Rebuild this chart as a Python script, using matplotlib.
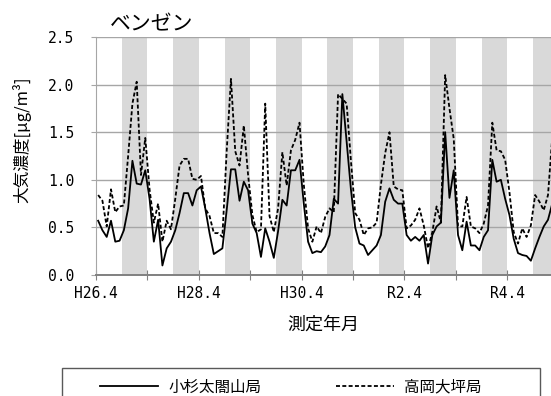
import numpy as np
import matplotlib.pyplot as plt
from matplotlib.lines import Line2D
from matplotlib.patches import Rectangle

plt.rcParams['font.family'] = ['Noto Sans CJK JP', 'DejaVu Sans']

# monthly benzene, starting H26.4 (April 2014)
kosugi = [0.57, 0.47, 0.40, 0.57, 0.35, 0.36, 0.47, 0.70, 1.20, 0.96,
          0.95, 1.10, 0.80, 0.35, 0.58, 0.10, 0.28, 0.35, 0.47, 0.65,
          0.86, 0.86, 0.73, 0.89, 0.93, 0.70, 0.44, 0.22, 0.25, 0.28,
          0.68, 1.11, 1.11, 0.78, 0.98, 0.89, 0.54, 0.44, 0.19, 0.49,
          0.35, 0.18, 0.46, 0.79, 0.73, 1.10, 1.10, 1.21, 0.75, 0.35,
          0.23, 0.25, 0.24, 0.30, 0.42, 0.80, 0.75, 1.90, 1.40, 0.90,
          0.50, 0.33, 0.31, 0.21, 0.26, 0.31, 0.42, 0.77, 0.91, 0.79,
          0.75, 0.75, 0.42, 0.36, 0.40, 0.36, 0.42, 0.12, 0.42, 0.51,
          0.55, 1.50, 0.81, 1.10, 0.42, 0.26, 0.56, 0.31, 0.31, 0.26,
          0.40, 0.47, 1.21, 0.98, 1.00, 0.80, 0.63, 0.38, 0.23, 0.21,
          0.20, 0.15, 0.28, 0.40, 0.51, 0.58, 0.75]
takaoka = [0.84, 0.78, 0.51, 0.90, 0.66, 0.72, 0.73, 1.25, 1.80, 2.03,
           1.05, 1.44, 0.90, 0.55, 0.75, 0.35, 0.57, 0.48, 0.80, 1.15,
           1.22, 1.22, 1.01, 1.00, 1.04, 0.70, 0.62, 0.44, 0.44, 0.40,
           1.30, 2.06, 1.30, 1.15, 1.57, 1.05, 0.63, 0.45, 0.48, 1.80,
           0.62, 0.45, 0.70, 1.29, 0.94, 1.31, 1.42, 1.60, 0.95, 0.49,
           0.35, 0.51, 0.44, 0.61, 0.70, 0.66, 1.90, 1.85, 1.80, 1.20,
           0.65, 0.58, 0.42, 0.49, 0.50, 0.55, 0.95, 1.28, 1.50, 0.93,
           0.90, 0.89, 0.49, 0.52, 0.58, 0.70, 0.52, 0.28, 0.45, 0.72,
           0.55, 2.10, 1.75, 1.43, 0.51, 0.51, 0.82, 0.51, 0.49, 0.44,
           0.54, 0.73, 1.60, 1.31, 1.30, 1.21, 0.87, 0.45, 0.33, 0.49,
           0.40, 0.52, 0.84, 0.77, 0.68, 0.84, 1.45]
station_names = ['小杉太閤山局', '高岡大坪局']
tick_labels = ['H26.4', 'H28.4', 'H30.4', 'R2.4', 'R4.4']
start_month = 4
winter_months = [10, 11, 12, 1, 2, 3]

n = len(kosugi)
idx = np.arange(n)
xpos = idx + 0.5
cal_month = (start_month - 1 + idx) % 12 + 1
winter = np.isin(cal_month, winter_months)

fig = plt.figure(figsize=(5.51, 3.96), dpi=100)
ax = fig.add_axes([96 / 551, 121 / 396, 455 / 551, 238 / 396])

# shaded Oct-Mar bands
ax.bar(xpos[winter], 2.5, width=1.0, color='#D9D9D9', linewidth=0, zorder=0)

dash = (0, (2.2, 1.3))
ax.plot(xpos, kosugi, color='black', lw=1.3, zorder=3)
ax.plot(xpos, takaoka, color='black', lw=1.3, ls=dash, zorder=3)

ax.set_xlim(0, 106.2)
ax.set_ylim(0, 2.5)
ax.set_axisbelow(True)
ax.yaxis.grid(True, color='#A6A6A6', lw=1.0)
ax.set_yticks(np.arange(0, 2.51, 0.5))
ax.set_yticklabels(['%.1f' % v for v in np.arange(0, 2.51, 0.5)])

xt = np.arange(0, 97, 12)
ax.set_xticks(xt)
xl = []
for k in range(len(xt)):
    xl.append(tick_labels[k // 2] if k % 2 == 0 else '')
ax.set_xticklabels(xl)

for s in ['top', 'right']:
    ax.spines[s].set_visible(False)
ax.spines['left'].set_color('#A6A6A6')
ax.spines['bottom'].set_color('#808080')
ax.spines['bottom'].set_linewidth(1.4)

ax.tick_params(axis='y', length=3.5, color='#A6A6A6', pad=12)
ax.tick_params(axis='x', direction='inout', length=6.5, color='#808080', pad=5)
for lab in ax.get_xticklabels() + ax.get_yticklabels():
    lab.set_fontfamily('DejaVu Sans Mono')
    lab.set_fontsize(10.5)

ax.set_xlabel('測定年月', fontsize=13, labelpad=10)
fig.text(22 / 551, 1 - 140 / 396, '大気濃度[μg/m³]', rotation=90,
         ha='center', va='center', fontsize=12)
fig.text(110 / 551, 1 - 24 / 396, 'ベンゼン', ha='left', va='center', fontsize=15)

handles = [Line2D([], [], color='black', lw=1.3),
           Line2D([], [], color='black', lw=1.3, ls=dash)]
fig.legend(handles, station_names, loc='center left',
           bbox_to_anchor=(100 / 551, 1 - 387 / 396), ncol=2, frameon=False,
           handlelength=3.73, handletextpad=0.64, columnspacing=4.8,
           borderpad=0, borderaxespad=0, fontsize=11.2)
fig.add_artist(Rectangle((62 / 551, -0.05), (540 - 62) / 551, 0.05 + 1 - 368 / 396,
                         fill=False, edgecolor='#595959', lw=1.0,
                         transform=fig.transFigure))

fig.savefig('out.png', dpi=100)
